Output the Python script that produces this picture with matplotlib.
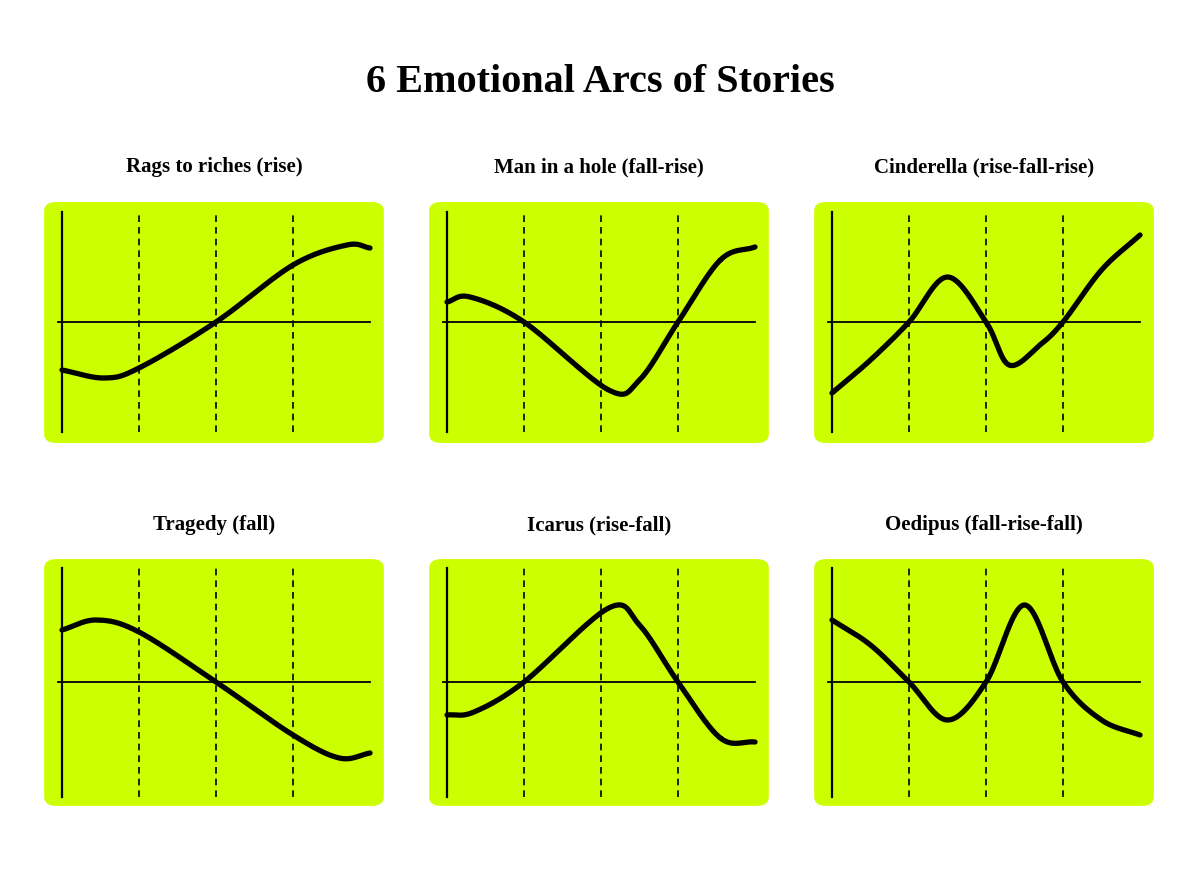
import numpy as np
import matplotlib
matplotlib.use("Agg")
import matplotlib.pyplot as plt
from matplotlib.patches import FancyBboxPatch

titles = ["Rags to riches (rise)", "Man in a hole (fall-rise)", "Cinderella (rise-fall-rise)",
          "Tragedy (fall)", "Icarus (rise-fall)", "Oedipus (fall-rise-fall)"]
arc_x = [
    [0, 0.55, 1, 2, 3, 3.7, 4.0],
    [0, 0.3, 1, 2.1, 2.5, 3, 3.55, 4.0],
    [0, 0.5, 1, 1.5, 2, 2.3, 2.7, 3, 3.5, 4.0],
    [0, 0.45, 1, 2, 3, 3.6, 4.0],
    [0, 0.35, 1, 2.1, 2.5, 3, 3.55, 4.0],
    [0, 0.5, 1, 1.5, 2, 2.5, 3, 3.5, 4.0],
]
arc_y = [
    [-0.48, -0.56, -0.46, 0, 0.57, 0.77, 0.74],
    [0.2, 0.25, 0, -0.68, -0.58, 0, 0.62, 0.75],
    [-0.71, -0.38, 0, 0.45, 0, -0.43, -0.23, 0, 0.52, 0.87],
    [0.52, 0.62, 0.5, 0, -0.53, -0.76, -0.71],
    [-0.33, -0.3, 0, 0.74, 0.57, 0, -0.56, -0.6],
    [0.62, 0.37, 0, -0.38, 0, 0.77, 0, -0.38, -0.53],
]

def smooth(xs, ys, n=40):
    xs = np.asarray(xs, float); ys = np.asarray(ys, float)
    px = np.concatenate([[2*xs[0]-xs[1]], xs, [2*xs[-1]-xs[-2]]])
    py = np.concatenate([[2*ys[0]-ys[1]], ys, [2*ys[-1]-ys[-2]]])
    ox, oy = [], []
    t = np.linspace(0, 1, n)
    for i in range(1, len(px)-2):
        for p, o in ((px, ox), (py, oy)):
            p0, p1, p2, p3 = p[i-1], p[i], p[i+1], p[i+2]
            o.extend(0.5*((2*p1) + (-p0+p2)*t + (2*p0-5*p1+4*p2-p3)*t**2 + (-p0+3*p1-3*p2+p3)*t**3))
    return np.array(ox), np.array(oy)

W, H = 1200, 896
fig = plt.figure(figsize=(12, 8.96), dpi=100)
fig.patch.set_facecolor("white")
fig.text(0.5, 1-82/H, "6 Emotional Arcs of Stories", ha="center", va="center",
         fontsize=29, fontweight="bold", family="Liberation Serif")

cols = [40, 425, 810]
rows = [(198, 447, 322, 212, 432, 167), (555, 810, 682, 568, 797, 525)]
green = "#CCFF00"
for k in range(6):
    r, c = divmod(k, 3)
    top, bot, axy, vt, vb, ty = rows[r]
    left = cols[c]; right = left + 348
    ax = fig.add_axes([left/W, 1-bot/H, (right-left)/W, (bot-top)/H])
    ax.set_axis_off()
    ox = left + 22
    ax.set_xlim((left-ox)/77, (right-ox)/77)
    ax.set_ylim((axy-bot)/100, (axy-top)/100)
    ax.add_patch(FancyBboxPatch((0.012, 0.016), 0.976, 0.968, boxstyle="round,pad=0,rounding_size=0.035",
                                transform=ax.transAxes, facecolor=green, edgecolor="none", zorder=0))
    ax.plot([0, 0], [(axy-vb)/100, (axy-vt)/100], color="black", lw=1.6, zorder=2)
    ax.plot([-0.05, 4.0], [0, 0], color="black", lw=1.3, zorder=2)
    for xv in (1, 2, 3):
        ax.plot([xv, xv], [(axy-vb)/100, (axy-vt)/100], color="black", lw=1.2, ls=(0, (4, 3)), zorder=2)
    sx, sy = smooth(arc_x[k], arc_y[k])
    ax.plot(sx, sy, color="black", lw=3.8, solid_capstyle="round", zorder=3)
    fig.text((left+right)/2/W, 1-ty/H, titles[k], ha="center", va="center",
             fontsize=15, fontweight="bold", family="Liberation Serif")

fig.savefig("out.png", dpi=100, facecolor="white")
